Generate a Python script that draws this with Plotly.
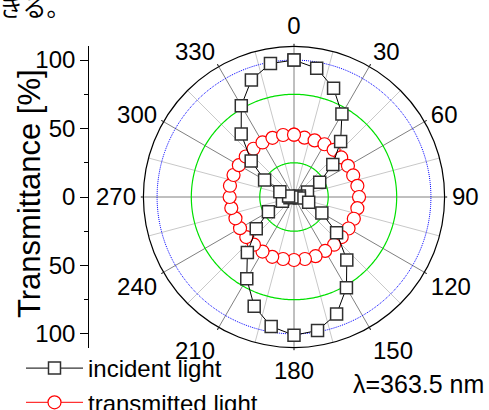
import plotly.graph_objects as go
import numpy as np

# ---------------- data ----------------
angles = [0, 10, 20, 30, 40, 50, 60, 70, 80, 90, 100, 110, 120, 130, 140, 150, 160, 170,
          180, 190, 200, 210, 220, 230, 240, 250, 260, 270, 280, 290, 300, 310, 320, 330, 340, 350]
incident = [100, 95.5, 84.5, 70, 53, 37, 21.7, 10.5, 4, 1.5, 4, 11.4, 23.5, 40.6, 60, 76.6, 91, 99,
            101, 96, 85, 69, 53, 36, 21.6, 9, 3, 1.5, 4, 11, 24.8, 40.8, 60, 77, 91, 99]
transmitted = [45.5, 44, 44, 44.5, 45, 45, 45.5, 46, 47, 47.5, 47, 46.5, 46, 45.5, 45.5, 45.5, 46, 46,
               46, 46, 46.5, 46, 45.5, 45.5, 45.5, 45.5, 46.5, 47, 47.5, 47, 46.5, 46, 46, 46, 46, 46]
angle_ticks = [0, 30, 60, 90, 120, 150, 180, 210, 240, 270, 300, 330]
angle_ticktext = [str(a) for a in angle_ticks]
minor_spokes = [15, 45, 75, 105, 135, 165, 195, 225, 255, 285, 315, 345]
green_rings = [25, 75]
blue_ring = 100
r_max = 110
y_tickvals = [-100, -50, 0, 50, 100]
y_ticktext = ["100", "50", "0", "50", "100"]
y_minor = [-75, -25, 25, 75]

FONT = "Liberation Sans, Arial, sans-serif"
W, H = 489, 410
cx, cy, R = 294, 197, 150.6

fig = go.Figure()

ring_theta = list(np.linspace(0, 360, 361))

# minor spokes
sp_r, sp_t = [], []
for a in minor_spokes:
    sp_r += [0, r_max, None]
    sp_t += [a, a, None]
fig.add_trace(go.Scatterpolar(r=sp_r, theta=sp_t, mode="lines",
                              line=dict(color="#c8c8c8", width=1),
                              showlegend=False, hoverinfo="skip"))
for g in green_rings:
    fig.add_trace(go.Scatterpolar(r=[g] * len(ring_theta), theta=ring_theta, mode="lines",
                                  line=dict(color="#00e000", width=1.2),
                                  showlegend=False, hoverinfo="skip"))
fig.add_trace(go.Scatterpolar(r=[blue_ring] * len(ring_theta), theta=ring_theta, mode="lines",
                              line=dict(color="#0000ff", width=1, dash="1px,1px"),
                              showlegend=False, hoverinfo="skip"))

fig.add_trace(go.Scatterpolar(
    r=transmitted + [transmitted[0]], theta=angles + [angles[0]],
    mode="lines+markers", name="transmitted light", legendrank=2,
    line=dict(color="#ff0000", width=1),
    marker=dict(symbol="circle", size=13, color="white", line=dict(color="#ff0000", width=1.2)),
))
fig.add_trace(go.Scatterpolar(
    r=incident + [incident[0]], theta=angles + [angles[0]],
    mode="lines+markers", name="incident light", legendrank=1,
    line=dict(color="#000000", width=1),
    marker=dict(symbol="square", size=12, color="white", line=dict(color="#303030", width=1.5)),
))

# dummy cartesian trace so the left axis exists
fig.add_trace(go.Scatter(x=[None], y=[None], showlegend=False, hoverinfo="skip"))

fig.update_layout(
    width=W, height=H,
    margin=dict(l=0, r=0, t=0, b=0, autoexpand=False),
    paper_bgcolor="white", plot_bgcolor="rgba(0,0,0,0)",
    font=dict(family=FONT, size=24, color="black"),
    polar=dict(
        domain=dict(x=[(cx - R) / W, (cx + R) / W], y=[(H - cy - R) / H, (H - cy + R) / H]),
        bgcolor="white",
        radialaxis=dict(range=[0, r_max], showgrid=False, showticklabels=False,
                        ticks="", showline=False),
        angularaxis=dict(direction="clockwise", rotation=90,
                         tickmode="array", tickvals=angle_ticks, ticktext=angle_ticktext,
                         showgrid=True, gridcolor="#808080", gridwidth=1,
                         showline=True, linecolor="black", linewidth=1.2,
                         ticks="outside", ticklen=2, tickcolor="black",
                         tickfont=dict(family=FONT, size=24, color="black")),
    ),
    xaxis=dict(domain=[89.3 / W, 89.3 / W + 0.01], visible=False, range=[0, 1]),
    yaxis=dict(domain=[(H - cy - R) / H, (H - cy + R) / H], range=[-r_max, r_max],
               tickmode="array", tickvals=y_tickvals, ticktext=y_ticktext,
               ticks="outside", ticklen=8, tickcolor="black", tickwidth=1,
               showline=True, linecolor="black", linewidth=1.2,
               showgrid=False, zeroline=False, automargin=False,
               tickfont=dict(family=FONT, size=24, color="black"),
               minor=dict(tickvals=y_minor, ticks="outside", ticklen=4, tickcolor="black")),
    legend=dict(x=21 / W, xanchor="left", y=(H - 346) / H, yanchor="top",
                bgcolor="rgba(0,0,0,0)", borderwidth=0,
                font=dict(family=FONT, size=24, color="black"),
                itemwidth=57, tracegroupgap=0),
    showlegend=True,
    annotations=[
        dict(text="Transmittance [%]", textangle=-90, xref="paper", yref="paper",
             x=29 / W, y=(H - 194) / H, xanchor="center", yanchor="middle", showarrow=False,
             font=dict(family=FONT, size=31, color="black")),
        dict(text="λ=363.5 nm", xref="paper", yref="paper",
             x=351 / W, y=(H - 384) / H, xanchor="left", yanchor="middle", showarrow=False,
             font=dict(family=FONT, size=25, color="black")),
        dict(text="きる。", xref="paper", yref="paper",
             x=-3 / W, y=(H - 5.5) / H, xanchor="left", yanchor="middle", showarrow=False,
             font=dict(family="Noto Sans CJK JP", size=24, color="black")),
    ],
)

fig.write_html("out.html", config={"displayModeBar": False},
               post_script="document.body.style.margin='0';document.body.style.overflow='hidden';")
